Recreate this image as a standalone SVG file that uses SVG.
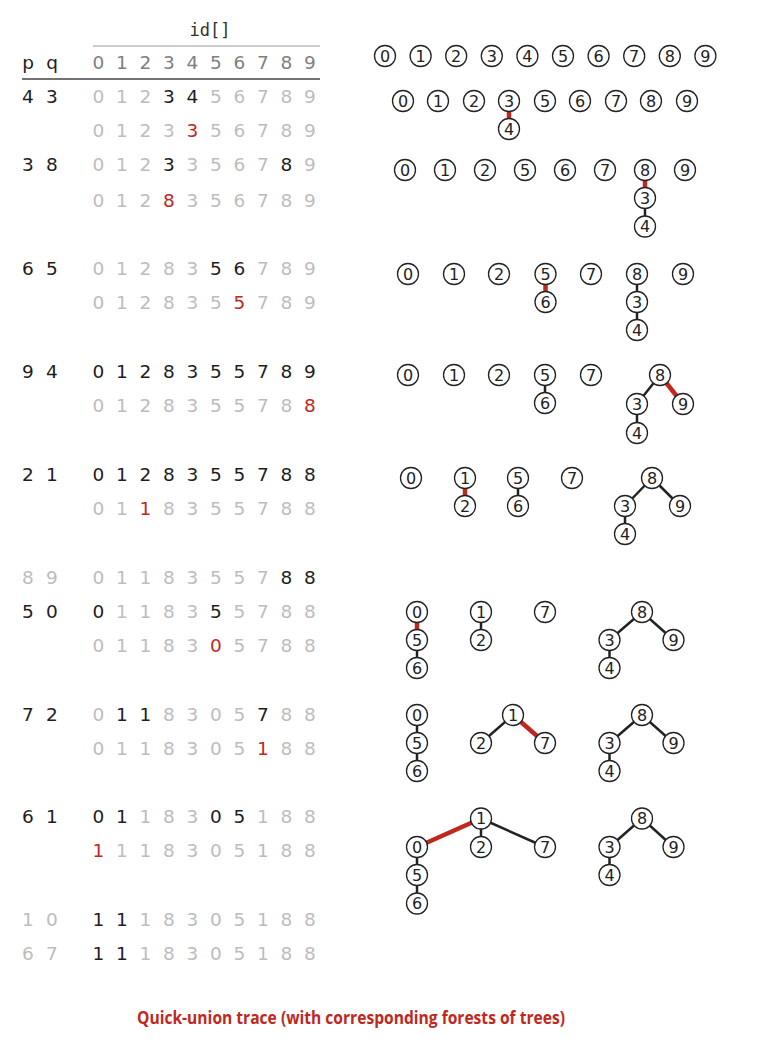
<svg xmlns="http://www.w3.org/2000/svg" width="764" height="1058" viewBox="0 0 764 1058">
<style>
text{font-family:"DejaVu Sans","Noto Sans",sans-serif}
.t text{font-size:18.5px;text-anchor:middle}
.g{fill:#bdbdbd}.k{fill:#1e1e1e}.r{fill:#c0281e}.h{fill:#808080}
.n circle{fill:#fff;stroke:#222;stroke-width:1.3}
.n text{font-size:16px;text-anchor:middle;fill:#222}
.e line{stroke:#222;stroke-width:2.5}
.e line.x{stroke:#c0281e;stroke-width:4.5}
</style>
<rect width="764" height="1058" fill="#fff"/>
<g id="table-header">
<text x="210" y="36" style="font-family:'DejaVu Sans Mono','Liberation Mono',monospace;font-size:17px;fill:#333;text-anchor:middle">id[]</text>
<line x1="93" y1="46" x2="320" y2="46" stroke="#999" stroke-width="1"/>
<line x1="22" y1="79" x2="320" y2="79" stroke="#444" stroke-width="1.3"/>
<g class="t">
<text x="28" y="69" class="k">p</text><text x="52" y="69" class="k">q</text>
<text x="98.5" y="69" class="h">0</text><text x="122" y="69" class="h">1</text><text x="145.5" y="69" class="h">2</text><text x="169" y="69" class="h">3</text><text x="192.5" y="69" class="h">4</text><text x="216" y="69" class="h">5</text><text x="239.5" y="69" class="h">6</text><text x="263" y="69" class="h">7</text><text x="286.5" y="69" class="h">8</text><text x="310" y="69" class="h">9</text>
</g>
</g>
<g id="table-rows" class="t">
<g id="r1"><text x="28" y="103" class="k">4</text><text x="52" y="103" class="k">3</text>
<text x="98.5" y="103" class="g">0</text><text x="122" y="103" class="g">1</text><text x="145.5" y="103" class="g">2</text><text x="169" y="103" class="k">3</text><text x="192.5" y="103" class="k">4</text><text x="216" y="103" class="g">5</text><text x="239.5" y="103" class="g">6</text><text x="263" y="103" class="g">7</text><text x="286.5" y="103" class="g">8</text><text x="310" y="103" class="g">9</text></g>
<g id="r2"><text x="98.5" y="137" class="g">0</text><text x="122" y="137" class="g">1</text><text x="145.5" y="137" class="g">2</text><text x="169" y="137" class="g">3</text><text x="192.5" y="137" class="r">3</text><text x="216" y="137" class="g">5</text><text x="239.5" y="137" class="g">6</text><text x="263" y="137" class="g">7</text><text x="286.5" y="137" class="g">8</text><text x="310" y="137" class="g">9</text></g>
<g id="r3"><text x="28" y="171" class="k">3</text><text x="52" y="171" class="k">8</text>
<text x="98.5" y="171" class="g">0</text><text x="122" y="171" class="g">1</text><text x="145.5" y="171" class="g">2</text><text x="169" y="171" class="k">3</text><text x="192.5" y="171" class="g">3</text><text x="216" y="171" class="g">5</text><text x="239.5" y="171" class="g">6</text><text x="263" y="171" class="g">7</text><text x="286.5" y="171" class="k">8</text><text x="310" y="171" class="g">9</text></g>
<g id="r4"><text x="98.5" y="206.5" class="g">0</text><text x="122" y="206.5" class="g">1</text><text x="145.5" y="206.5" class="g">2</text><text x="169" y="206.5" class="r">8</text><text x="192.5" y="206.5" class="g">3</text><text x="216" y="206.5" class="g">5</text><text x="239.5" y="206.5" class="g">6</text><text x="263" y="206.5" class="g">7</text><text x="286.5" y="206.5" class="g">8</text><text x="310" y="206.5" class="g">9</text></g>
<g id="r5"><text x="28" y="275" class="k">6</text><text x="52" y="275" class="k">5</text>
<text x="98.5" y="275" class="g">0</text><text x="122" y="275" class="g">1</text><text x="145.5" y="275" class="g">2</text><text x="169" y="275" class="g">8</text><text x="192.5" y="275" class="g">3</text><text x="216" y="275" class="k">5</text><text x="239.5" y="275" class="k">6</text><text x="263" y="275" class="g">7</text><text x="286.5" y="275" class="g">8</text><text x="310" y="275" class="g">9</text></g>
<g id="r6"><text x="98.5" y="309" class="g">0</text><text x="122" y="309" class="g">1</text><text x="145.5" y="309" class="g">2</text><text x="169" y="309" class="g">8</text><text x="192.5" y="309" class="g">3</text><text x="216" y="309" class="g">5</text><text x="239.5" y="309" class="r">5</text><text x="263" y="309" class="g">7</text><text x="286.5" y="309" class="g">8</text><text x="310" y="309" class="g">9</text></g>
<g id="r7"><text x="28" y="378" class="k">9</text><text x="52" y="378" class="k">4</text>
<text x="98.5" y="378" class="k">0</text><text x="122" y="378" class="k">1</text><text x="145.5" y="378" class="k">2</text><text x="169" y="378" class="k">8</text><text x="192.5" y="378" class="k">3</text><text x="216" y="378" class="k">5</text><text x="239.5" y="378" class="k">5</text><text x="263" y="378" class="k">7</text><text x="286.5" y="378" class="k">8</text><text x="310" y="378" class="k">9</text></g>
<g id="r8"><text x="98.5" y="412" class="g">0</text><text x="122" y="412" class="g">1</text><text x="145.5" y="412" class="g">2</text><text x="169" y="412" class="g">8</text><text x="192.5" y="412" class="g">3</text><text x="216" y="412" class="g">5</text><text x="239.5" y="412" class="g">5</text><text x="263" y="412" class="g">7</text><text x="286.5" y="412" class="g">8</text><text x="310" y="412" class="r">8</text></g>
<g id="r9"><text x="28" y="481" class="k">2</text><text x="52" y="481" class="k">1</text>
<text x="98.5" y="481" class="k">0</text><text x="122" y="481" class="k">1</text><text x="145.5" y="481" class="k">2</text><text x="169" y="481" class="k">8</text><text x="192.5" y="481" class="k">3</text><text x="216" y="481" class="k">5</text><text x="239.5" y="481" class="k">5</text><text x="263" y="481" class="k">7</text><text x="286.5" y="481" class="k">8</text><text x="310" y="481" class="k">8</text></g>
<g id="r10"><text x="98.5" y="515" class="g">0</text><text x="122" y="515" class="g">1</text><text x="145.5" y="515" class="r">1</text><text x="169" y="515" class="g">8</text><text x="192.5" y="515" class="g">3</text><text x="216" y="515" class="g">5</text><text x="239.5" y="515" class="g">5</text><text x="263" y="515" class="g">7</text><text x="286.5" y="515" class="g">8</text><text x="310" y="515" class="g">8</text></g>
<g id="r11"><text x="28" y="584" class="g">8</text><text x="52" y="584" class="g">9</text>
<text x="98.5" y="584" class="g">0</text><text x="122" y="584" class="g">1</text><text x="145.5" y="584" class="g">1</text><text x="169" y="584" class="g">8</text><text x="192.5" y="584" class="g">3</text><text x="216" y="584" class="g">5</text><text x="239.5" y="584" class="g">5</text><text x="263" y="584" class="g">7</text><text x="286.5" y="584" class="k">8</text><text x="310" y="584" class="k">8</text></g>
<g id="r12"><text x="28" y="618" class="k">5</text><text x="52" y="618" class="k">0</text>
<text x="98.5" y="618" class="k">0</text><text x="122" y="618" class="g">1</text><text x="145.5" y="618" class="g">1</text><text x="169" y="618" class="g">8</text><text x="192.5" y="618" class="g">3</text><text x="216" y="618" class="k">5</text><text x="239.5" y="618" class="g">5</text><text x="263" y="618" class="g">7</text><text x="286.5" y="618" class="g">8</text><text x="310" y="618" class="g">8</text></g>
<g id="r13"><text x="98.5" y="652" class="g">0</text><text x="122" y="652" class="g">1</text><text x="145.5" y="652" class="g">1</text><text x="169" y="652" class="g">8</text><text x="192.5" y="652" class="g">3</text><text x="216" y="652" class="r">0</text><text x="239.5" y="652" class="g">5</text><text x="263" y="652" class="g">7</text><text x="286.5" y="652" class="g">8</text><text x="310" y="652" class="g">8</text></g>
<g id="r14"><text x="28" y="721" class="k">7</text><text x="52" y="721" class="k">2</text>
<text x="98.5" y="721" class="g">0</text><text x="122" y="721" class="k">1</text><text x="145.5" y="721" class="k">1</text><text x="169" y="721" class="g">8</text><text x="192.5" y="721" class="g">3</text><text x="216" y="721" class="g">0</text><text x="239.5" y="721" class="g">5</text><text x="263" y="721" class="k">7</text><text x="286.5" y="721" class="g">8</text><text x="310" y="721" class="g">8</text></g>
<g id="r15"><text x="98.5" y="755" class="g">0</text><text x="122" y="755" class="g">1</text><text x="145.5" y="755" class="g">1</text><text x="169" y="755" class="g">8</text><text x="192.5" y="755" class="g">3</text><text x="216" y="755" class="g">0</text><text x="239.5" y="755" class="g">5</text><text x="263" y="755" class="r">1</text><text x="286.5" y="755" class="g">8</text><text x="310" y="755" class="g">8</text></g>
<g id="r16"><text x="28" y="823" class="k">6</text><text x="52" y="823" class="k">1</text>
<text x="98.5" y="823" class="k">0</text><text x="122" y="823" class="k">1</text><text x="145.5" y="823" class="g">1</text><text x="169" y="823" class="g">8</text><text x="192.5" y="823" class="g">3</text><text x="216" y="823" class="k">0</text><text x="239.5" y="823" class="k">5</text><text x="263" y="823" class="g">1</text><text x="286.5" y="823" class="g">8</text><text x="310" y="823" class="g">8</text></g>
<g id="r17"><text x="98.5" y="857" class="r">1</text><text x="122" y="857" class="g">1</text><text x="145.5" y="857" class="g">1</text><text x="169" y="857" class="g">8</text><text x="192.5" y="857" class="g">3</text><text x="216" y="857" class="g">0</text><text x="239.5" y="857" class="g">5</text><text x="263" y="857" class="g">1</text><text x="286.5" y="857" class="g">8</text><text x="310" y="857" class="g">8</text></g>
<g id="r18"><text x="28" y="926" class="g">1</text><text x="52" y="926" class="g">0</text>
<text x="98.5" y="926" class="k">1</text><text x="122" y="926" class="k">1</text><text x="145.5" y="926" class="g">1</text><text x="169" y="926" class="g">8</text><text x="192.5" y="926" class="g">3</text><text x="216" y="926" class="g">0</text><text x="239.5" y="926" class="g">5</text><text x="263" y="926" class="g">1</text><text x="286.5" y="926" class="g">8</text><text x="310" y="926" class="g">8</text></g>
<g id="r19"><text x="28" y="960" class="g">6</text><text x="52" y="960" class="g">7</text>
<text x="98.5" y="960" class="k">1</text><text x="122" y="960" class="k">1</text><text x="145.5" y="960" class="g">1</text><text x="169" y="960" class="g">8</text><text x="192.5" y="960" class="g">3</text><text x="216" y="960" class="g">0</text><text x="239.5" y="960" class="g">5</text><text x="263" y="960" class="g">1</text><text x="286.5" y="960" class="g">8</text><text x="310" y="960" class="g">8</text></g>
</g>
<g id="connectors" class="e">
<line class="x" x1="509" y1="101" x2="509" y2="129"/>
<line class="x" x1="645" y1="170" x2="645" y2="198"/>
<line x1="645" y1="198" x2="645" y2="226.5"/>
<line class="x" x1="545.5" y1="274" x2="545.5" y2="302"/>
<line x1="637" y1="274" x2="637" y2="302"/>
<line x1="637" y1="302" x2="637" y2="330"/>
<line x1="545" y1="375" x2="545" y2="403"/>
<line x1="660" y1="375" x2="637" y2="404"/>
<line class="x" x1="660" y1="375" x2="683" y2="404"/>
<line x1="637" y1="404" x2="637" y2="433"/>
<line class="x" x1="465" y1="478" x2="465" y2="506"/>
<line x1="518" y1="478" x2="518" y2="506"/>
<line x1="652" y1="478" x2="625" y2="506"/>
<line x1="652" y1="478" x2="680" y2="506"/>
<line x1="625" y1="506" x2="625" y2="534"/>
<line class="x" x1="417" y1="612" x2="417" y2="640"/>
<line x1="417" y1="640" x2="417" y2="668"/>
<line x1="481" y1="612" x2="481" y2="640"/>
<line x1="642" y1="612" x2="609.5" y2="640"/>
<line x1="642" y1="612" x2="673.5" y2="640"/>
<line x1="609.5" y1="640" x2="609.5" y2="668"/>
<line x1="417" y1="715" x2="417" y2="743"/>
<line x1="417" y1="743" x2="417" y2="771"/>
<line x1="513" y1="715" x2="481" y2="743"/>
<line class="x" x1="513" y1="715" x2="545" y2="743"/>
<line x1="642" y1="715" x2="609.5" y2="743"/>
<line x1="642" y1="715" x2="673.5" y2="743"/>
<line x1="609.5" y1="743" x2="609.5" y2="771"/>
<line class="x" x1="481" y1="818.5" x2="417" y2="847"/>
<line x1="481" y1="818.5" x2="481" y2="847"/>
<line x1="481" y1="818.5" x2="545" y2="847"/>
<line x1="417" y1="847" x2="417" y2="875"/>
<line x1="417" y1="875" x2="417" y2="903.5"/>
<line x1="642" y1="818.5" x2="609.5" y2="847"/>
<line x1="642" y1="818.5" x2="673.5" y2="847"/>
<line x1="609.5" y1="847" x2="609.5" y2="875"/>
</g>
<g id="forest0" class="n">
<g id="f0n0"><circle cx="385" cy="56" r="10.5"/><text x="385" y="61.5">0</text></g>
<g id="f0n1"><circle cx="420.6" cy="56" r="10.5"/><text x="420.6" y="61.5">1</text></g>
<g id="f0n2"><circle cx="456.2" cy="56" r="10.5"/><text x="456.2" y="61.5">2</text></g>
<g id="f0n3"><circle cx="491.8" cy="56" r="10.5"/><text x="491.8" y="61.5">3</text></g>
<g id="f0n4"><circle cx="527.4" cy="56" r="10.5"/><text x="527.4" y="61.5">4</text></g>
<g id="f0n5"><circle cx="563" cy="56" r="10.5"/><text x="563" y="61.5">5</text></g>
<g id="f0n6"><circle cx="598.6" cy="56" r="10.5"/><text x="598.6" y="61.5">6</text></g>
<g id="f0n7"><circle cx="634.2" cy="56" r="10.5"/><text x="634.2" y="61.5">7</text></g>
<g id="f0n8"><circle cx="669.8" cy="56" r="10.5"/><text x="669.8" y="61.5">8</text></g>
<g id="f0n9"><circle cx="705.4" cy="56" r="10.5"/><text x="705.4" y="61.5">9</text></g>
</g>
<g id="forest1" class="n">
<g id="f1n0"><circle cx="403" cy="101" r="10.5"/><text x="403" y="106.5">0</text></g>
<g id="f1n1"><circle cx="438" cy="101" r="10.5"/><text x="438" y="106.5">1</text></g>
<g id="f1n2"><circle cx="474" cy="101" r="10.5"/><text x="474" y="106.5">2</text></g>
<g id="f1n3"><circle cx="509" cy="101" r="10.5"/><text x="509" y="106.5">3</text></g>
<g id="f1n4"><circle cx="509" cy="129" r="10.5"/><text x="509" y="134.5">4</text></g>
<g id="f1n5"><circle cx="545" cy="101" r="10.5"/><text x="545" y="106.5">5</text></g>
<g id="f1n6"><circle cx="580" cy="101" r="10.5"/><text x="580" y="106.5">6</text></g>
<g id="f1n7"><circle cx="616" cy="101" r="10.5"/><text x="616" y="106.5">7</text></g>
<g id="f1n8"><circle cx="651" cy="101" r="10.5"/><text x="651" y="106.5">8</text></g>
<g id="f1n9"><circle cx="687" cy="101" r="10.5"/><text x="687" y="106.5">9</text></g>
</g>
<g id="forest2" class="n">
<g id="f2n0"><circle cx="405" cy="170" r="10.5"/><text x="405" y="175.5">0</text></g>
<g id="f2n1"><circle cx="445" cy="170" r="10.5"/><text x="445" y="175.5">1</text></g>
<g id="f2n2"><circle cx="485" cy="170" r="10.5"/><text x="485" y="175.5">2</text></g>
<g id="f2n5"><circle cx="525" cy="170" r="10.5"/><text x="525" y="175.5">5</text></g>
<g id="f2n6"><circle cx="565" cy="170" r="10.5"/><text x="565" y="175.5">6</text></g>
<g id="f2n7"><circle cx="605" cy="170" r="10.5"/><text x="605" y="175.5">7</text></g>
<g id="f2n8"><circle cx="645" cy="170" r="10.5"/><text x="645" y="175.5">8</text></g>
<g id="f2n3"><circle cx="645" cy="198" r="10.5"/><text x="645" y="203.5">3</text></g>
<g id="f2n4"><circle cx="645" cy="226.5" r="10.5"/><text x="645" y="232">4</text></g>
<g id="f2n9"><circle cx="685" cy="170" r="10.5"/><text x="685" y="175.5">9</text></g>
</g>
<g id="forest3" class="n">
<g id="f3n0"><circle cx="408" cy="274" r="10.5"/><text x="408" y="279.5">0</text></g>
<g id="f3n1"><circle cx="454" cy="274" r="10.5"/><text x="454" y="279.5">1</text></g>
<g id="f3n2"><circle cx="499" cy="274" r="10.5"/><text x="499" y="279.5">2</text></g>
<g id="f3n5"><circle cx="545.5" cy="274" r="10.5"/><text x="545.5" y="279.5">5</text></g>
<g id="f3n6"><circle cx="545.5" cy="302" r="10.5"/><text x="545.5" y="307.5">6</text></g>
<g id="f3n7"><circle cx="591" cy="274" r="10.5"/><text x="591" y="279.5">7</text></g>
<g id="f3n8"><circle cx="637" cy="274" r="10.5"/><text x="637" y="279.5">8</text></g>
<g id="f3n3"><circle cx="637" cy="302" r="10.5"/><text x="637" y="307.5">3</text></g>
<g id="f3n4"><circle cx="637" cy="330" r="10.5"/><text x="637" y="335.5">4</text></g>
<g id="f3n9"><circle cx="683" cy="274" r="10.5"/><text x="683" y="279.5">9</text></g>
</g>
<g id="forest4" class="n">
<g id="f4n0"><circle cx="408" cy="375" r="10.5"/><text x="408" y="380.5">0</text></g>
<g id="f4n1"><circle cx="454" cy="375" r="10.5"/><text x="454" y="380.5">1</text></g>
<g id="f4n2"><circle cx="499" cy="375" r="10.5"/><text x="499" y="380.5">2</text></g>
<g id="f4n5"><circle cx="545" cy="375" r="10.5"/><text x="545" y="380.5">5</text></g>
<g id="f4n6"><circle cx="545" cy="403" r="10.5"/><text x="545" y="408.5">6</text></g>
<g id="f4n7"><circle cx="591" cy="375" r="10.5"/><text x="591" y="380.5">7</text></g>
<g id="f4n8"><circle cx="660" cy="375" r="10.5"/><text x="660" y="380.5">8</text></g>
<g id="f4n3"><circle cx="637" cy="404" r="10.5"/><text x="637" y="409.5">3</text></g>
<g id="f4n9"><circle cx="683" cy="404" r="10.5"/><text x="683" y="409.5">9</text></g>
<g id="f4n4"><circle cx="637" cy="433" r="10.5"/><text x="637" y="438.5">4</text></g>
</g>
<g id="forest5" class="n">
<g id="f5n0"><circle cx="411" cy="478" r="10.5"/><text x="411" y="483.5">0</text></g>
<g id="f5n1"><circle cx="465" cy="478" r="10.5"/><text x="465" y="483.5">1</text></g>
<g id="f5n2"><circle cx="465" cy="506" r="10.5"/><text x="465" y="511.5">2</text></g>
<g id="f5n5"><circle cx="518" cy="478" r="10.5"/><text x="518" y="483.5">5</text></g>
<g id="f5n6"><circle cx="518" cy="506" r="10.5"/><text x="518" y="511.5">6</text></g>
<g id="f5n7"><circle cx="572" cy="478" r="10.5"/><text x="572" y="483.5">7</text></g>
<g id="f5n8"><circle cx="652" cy="478" r="10.5"/><text x="652" y="483.5">8</text></g>
<g id="f5n3"><circle cx="625" cy="506" r="10.5"/><text x="625" y="511.5">3</text></g>
<g id="f5n9"><circle cx="680" cy="506" r="10.5"/><text x="680" y="511.5">9</text></g>
<g id="f5n4"><circle cx="625" cy="534" r="10.5"/><text x="625" y="539.5">4</text></g>
</g>
<g id="forest6" class="n">
<g id="f6n0"><circle cx="417" cy="612" r="10.5"/><text x="417" y="617.5">0</text></g>
<g id="f6n5"><circle cx="417" cy="640" r="10.5"/><text x="417" y="645.5">5</text></g>
<g id="f6n6"><circle cx="417" cy="668" r="10.5"/><text x="417" y="673.5">6</text></g>
<g id="f6n1"><circle cx="481" cy="612" r="10.5"/><text x="481" y="617.5">1</text></g>
<g id="f6n2"><circle cx="481" cy="640" r="10.5"/><text x="481" y="645.5">2</text></g>
<g id="f6n7"><circle cx="545" cy="612" r="10.5"/><text x="545" y="617.5">7</text></g>
<g id="f6n8"><circle cx="642" cy="612" r="10.5"/><text x="642" y="617.5">8</text></g>
<g id="f6n3"><circle cx="609.5" cy="640" r="10.5"/><text x="609.5" y="645.5">3</text></g>
<g id="f6n9"><circle cx="673.5" cy="640" r="10.5"/><text x="673.5" y="645.5">9</text></g>
<g id="f6n4"><circle cx="609.5" cy="668" r="10.5"/><text x="609.5" y="673.5">4</text></g>
</g>
<g id="forest7" class="n">
<g id="f7n0"><circle cx="417" cy="715" r="10.5"/><text x="417" y="720.5">0</text></g>
<g id="f7n5"><circle cx="417" cy="743" r="10.5"/><text x="417" y="748.5">5</text></g>
<g id="f7n6"><circle cx="417" cy="771" r="10.5"/><text x="417" y="776.5">6</text></g>
<g id="f7n1"><circle cx="513" cy="715" r="10.5"/><text x="513" y="720.5">1</text></g>
<g id="f7n2"><circle cx="481" cy="743" r="10.5"/><text x="481" y="748.5">2</text></g>
<g id="f7n7"><circle cx="545" cy="743" r="10.5"/><text x="545" y="748.5">7</text></g>
<g id="f7n8"><circle cx="642" cy="715" r="10.5"/><text x="642" y="720.5">8</text></g>
<g id="f7n3"><circle cx="609.5" cy="743" r="10.5"/><text x="609.5" y="748.5">3</text></g>
<g id="f7n9"><circle cx="673.5" cy="743" r="10.5"/><text x="673.5" y="748.5">9</text></g>
<g id="f7n4"><circle cx="609.5" cy="771" r="10.5"/><text x="609.5" y="776.5">4</text></g>
</g>
<g id="forest8" class="n">
<g id="f8n1"><circle cx="481" cy="818.5" r="10.5"/><text x="481" y="824">1</text></g>
<g id="f8n0"><circle cx="417" cy="847" r="10.5"/><text x="417" y="852.5">0</text></g>
<g id="f8n2"><circle cx="481" cy="847" r="10.5"/><text x="481" y="852.5">2</text></g>
<g id="f8n7"><circle cx="545" cy="847" r="10.5"/><text x="545" y="852.5">7</text></g>
<g id="f8n5"><circle cx="417" cy="875" r="10.5"/><text x="417" y="880.5">5</text></g>
<g id="f8n6"><circle cx="417" cy="903.5" r="10.5"/><text x="417" y="909">6</text></g>
<g id="f8n8"><circle cx="642" cy="818.5" r="10.5"/><text x="642" y="824">8</text></g>
<g id="f8n3"><circle cx="609.5" cy="847" r="10.5"/><text x="609.5" y="852.5">3</text></g>
<g id="f8n9"><circle cx="673.5" cy="847" r="10.5"/><text x="673.5" y="852.5">9</text></g>
<g id="f8n4"><circle cx="609.5" cy="875" r="10.5"/><text x="609.5" y="880.5">4</text></g>
</g>
<text id="caption" x="351" y="1024" textLength="428" lengthAdjust="spacingAndGlyphs" style="font-family:'Open Sans','Noto Sans',sans-serif;font-weight:bold;font-size:17.5px;fill:#c0281e;text-anchor:middle">Quick-union trace (with corresponding forests of trees)</text>
</svg>
